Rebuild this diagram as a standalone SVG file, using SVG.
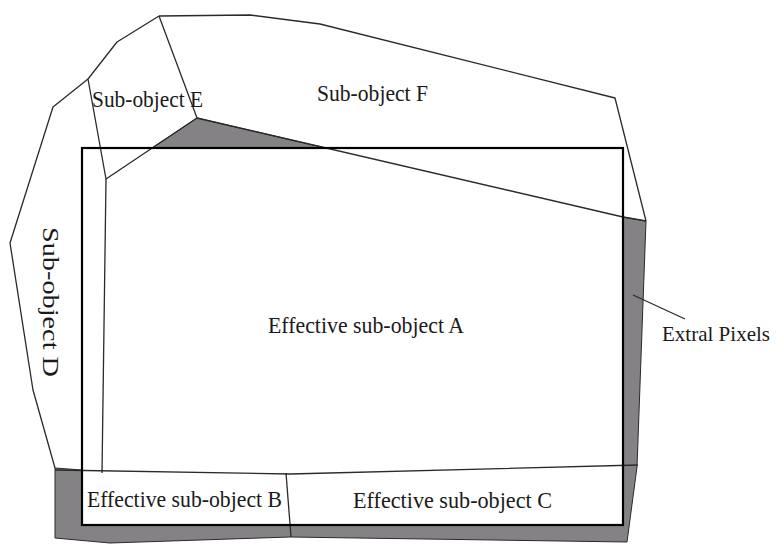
<svg xmlns="http://www.w3.org/2000/svg" width="776" height="544" viewBox="0 0 776 544">
<style>
.ln{fill:none;stroke:#2a2a2a;stroke-width:1.3;stroke-linejoin:round}
.gray{fill:#858285;stroke:#2a2a2a;stroke-width:1}
.rect{fill:none;stroke:#000;stroke-width:2.2}
.t{font-family:"Liberation Serif","Times New Roman",serif;font-size:23px;fill:#1a1a1a}
.s{font-size:21px}
</style>
<rect width="776" height="544" fill="#fff"/>
<g id="extra-pixels">
<path class="gray" d="M623,217 L646,221 L637,467 L627,542 L290,537 L110,543 L55,538 L55,468 L82,470 L82,525 L623,525 Z"/>
<path class="gray" d="M152,148 L197,118 L326,148 Z"/>
</g>
<g id="sub-object-D">
<path class="ln" d="M88,79 L53,107 L10,243 L33,390 L55,468"/>
<text class="t" transform="translate(43,227) rotate(90)" textLength="150" lengthAdjust="spacingAndGlyphs">Sub-object D</text>
</g>
<g id="sub-object-E">
<path class="ln" d="M159,16 L117,42 L88,79 L106,179 L197,118 L159,16"/>
<text class="t" x="92" y="107" textLength="111" lengthAdjust="spacingAndGlyphs">Sub-object E</text>
</g>
<g id="sub-object-F">
<path class="ln" d="M159,16 L250,15 L320,24 L615,98 L646,221"/>
<path class="ln" d="M197,118 L623,217 L646,221"/>
<text class="t" x="317" y="101" textLength="111" lengthAdjust="spacingAndGlyphs">Sub-object F</text>
</g>
<g id="effective-sub-object-A">
<path class="ln" d="M106,179 L102,473"/>
<path class="ln" d="M55,470 L290,474 L638,465"/>
<text class="t" x="268" y="333" textLength="196" lengthAdjust="spacingAndGlyphs">Effective sub-object A</text>
</g>
<g id="effective-sub-object-B">
<path class="ln" d="M286,473 L291,537"/>
<text class="t" x="87" y="507" textLength="195" lengthAdjust="spacingAndGlyphs">Effective sub-object B</text>
</g>
<g id="effective-sub-object-C">
<text class="t" x="353" y="508" textLength="199" lengthAdjust="spacingAndGlyphs">Effective sub-object C</text>
</g>
<g id="effective-frame">
<rect class="rect" x="82" y="148" width="541" height="377"/>
</g>
<g id="connectors">
<path class="ln" d="M633,295 L685,319"/>
</g>
<g id="label-extra-pixels">
<text class="t s" x="662" y="341" textLength="108" lengthAdjust="spacingAndGlyphs">Extral Pixels</text>
</g>
</svg>
